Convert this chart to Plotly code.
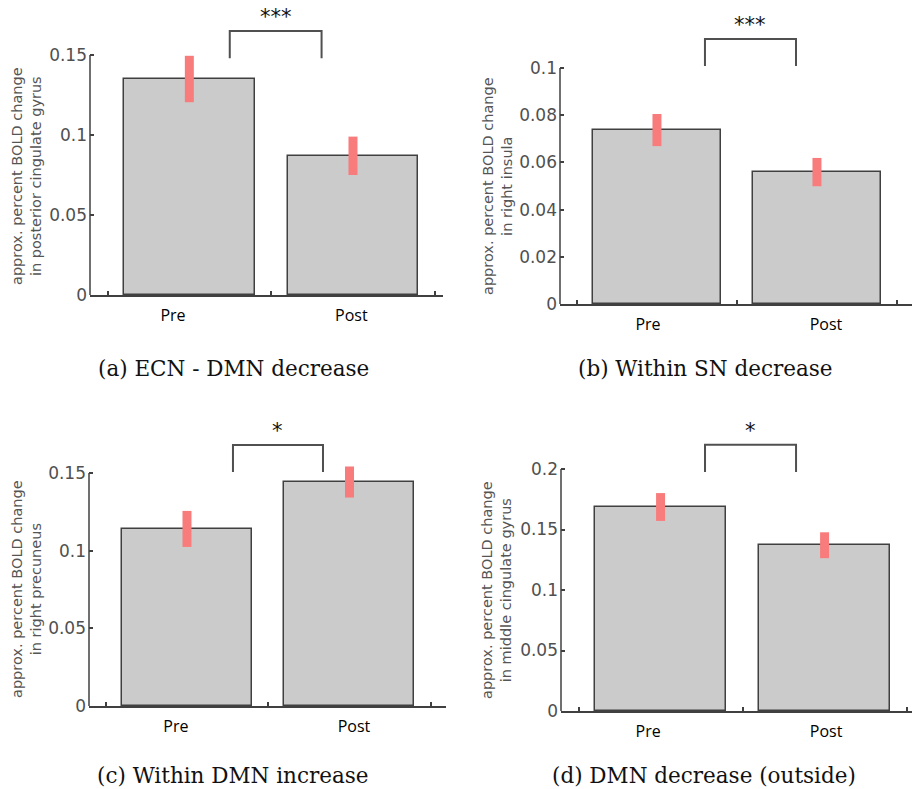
import plotly.graph_objects as go

# ---------------- data ----------------
categories = ["Pre", "Post"]

a_means = [0.135, 0.087]
a_errors = [0.0145, 0.012]
b_means = [0.0737, 0.0559]
b_errors = [0.0068, 0.006]
c_means = [0.114, 0.1442]
c_errors = [0.0116, 0.010]
d_means = [0.1686, 0.137]
d_errors = [0.0115, 0.0107]

a_yticks = [0, 0.05, 0.1, 0.15]
b_yticks = [0, 0.02, 0.04, 0.06, 0.08, 0.1]
c_yticks = [0, 0.05, 0.1, 0.15]
d_yticks = [0, 0.05, 0.1, 0.15, 0.2]

significance = ["***", "***", "*", "*"]
captions = ["(a) ECN - DMN decrease", "(b) Within SN decrease",
            "(c) Within DMN increase", "(d) DMN decrease (outside)"]
ytitles = ["approx. percent BOLD change<br>in posterior cingulate gyrus",
           "approx. percent BOLD change<br>in right insula",
           "approx. percent BOLD change<br>in right precuneus",
           "approx. percent BOLD change<br>in middle cingulate gyrus"]

# ---------------- layout geometry (pixels in a 912x789 canvas) ----------------
W, H = 912, 789
panels = [
    dict(means=a_means, err=a_errors, yticks=a_yticks, xl=90, xr=443, ybot=295, ytop=55, top=0,
         xrange=[0.393, 2.55], lab=[0.90, 1.99], br_x=[1.247, 1.808], br_y=[0.148, 0.165],
         cap=(233, 368), yt=(26, 176)),
    dict(means=b_means, err=b_errors, yticks=b_yticks, xl=560, xr=912, ybot=304, ytop=68, top=0,
         xrange=[0.394, 2.594], lab=[0.944, 2.056], br_x=[1.30, 1.869], br_y=[0.1008, 0.1123],
         cap=(705, 368), yt=(497, 186)),
    dict(means=c_means, err=c_errors, yticks=c_yticks, xl=89, xr=446, ybot=706, ytop=473, top=400,
         xrange=[0.397, 2.594], lab=[0.932, 2.028], br_x=[1.283, 1.837], br_y=[0.1507, 0.168],
         cap=(233, 775), yt=(26, 589)),
    dict(means=d_means, err=d_errors, yticks=d_yticks, xl=561, xr=912, ybot=711, ytop=469, top=400,
         xrange=[0.393, 2.533], lab=[0.924, 2.009], br_x=[1.271, 1.826], br_y=[0.1975, 0.22],
         cap=(704, 775), yt=(496, 590)),
]

AXIS_COLOR = "#404040"
BAR_FILL = "#CBCBCB"
ERR_COLOR = "#F97C7C"
SANS = "DejaVu Sans"

fig = go.Figure()
annotations = []
shapes = []

for i, p in enumerate(panels):
    n = "" if i == 0 else str(i + 1)
    xa, ya = "x" + n, "y" + n
    ymax_tick = p["yticks"][-1]
    ymax_range = ymax_tick * (p["ybot"] - p["top"]) / (p["ybot"] - p["ytop"])

    fig.add_trace(go.Bar(
        x=[1, 2], y=p["means"], width=0.8,
        marker=dict(color=BAR_FILL, line=dict(color=AXIS_COLOR, width=1.5)),
        error_y=dict(type="data", array=p["err"], visible=True, color=ERR_COLOR,
                     thickness=9, width=0),
        xaxis=xa, yaxis=ya, showlegend=False, hoverinfo="skip",
    ))

    fig.layout["xaxis" + n] = dict(
        domain=[p["xl"] / W, p["xr"] / W], anchor=ya, range=p["xrange"],
        automargin=False,
        showline=True, linecolor=AXIS_COLOR, linewidth=1.5,
        tickmode="array", tickvals=p["lab"], ticktext=categories, ticks="",
        tickfont=dict(family="Open Sans", size=16, color="#000"),
        ticklabelstandoff=5,
        minor=dict(tickmode="array", tickvals=[0.5, 1.5, 2.5], ticks="inside",
                   ticklen=4, tickcolor=AXIS_COLOR, tickwidth=1.5),
        showgrid=False, zeroline=False, fixedrange=True,
    )
    fig.layout["yaxis" + n] = dict(
        domain=[1 - p["ybot"] / H, 1 - p["top"] / H], anchor=xa,
        range=[0, ymax_range], automargin=False,
        showline=False, tickmode="array", tickvals=p["yticks"],
        ticktext=[f"{v:g}" for v in p["yticks"]],
        ticks="inside", ticklen=4, tickcolor=AXIS_COLOR, tickwidth=1.5,
        tickfont=dict(family=SANS, size=17, color="#505050"),
        ticklabelstandoff=2,
        showgrid=False, zeroline=False, fixedrange=True,
    )

    # y axis line up to the top tick
    shapes.append(dict(type="line", xref=xa + " domain", yref=ya,
                       x0=0, x1=0, y0=0, y1=ymax_tick,
                       line=dict(color=AXIS_COLOR, width=1.5)))
    # significance bracket
    bx, by = p["br_x"], p["br_y"]
    shapes.append(dict(type="path", xref=xa, yref=ya,
                       path=f"M {bx[0]} {by[0]} L {bx[0]} {by[1]} L {bx[1]} {by[1]} L {bx[1]} {by[0]}",
                       line=dict(color="#505050", width=2)))
    annotations.append(dict(xref=xa, yref=ya, x=(bx[0] + bx[1]) / 2, y=by[1],
                            yanchor="bottom", xanchor="center", yshift=0,
                            text=significance[i], showarrow=False,
                            font=dict(family=SANS, size=21, color="#111")))
    # y title
    annotations.append(dict(xref="paper", yref="paper",
                            x=p["yt"][0] / W, y=1 - p["yt"][1] / H,
                            xanchor="center", yanchor="middle", textangle=-90,
                            text=ytitles[i], showarrow=False,
                            font=dict(family=SANS, size=14.5, color="#555")))
    # caption
    annotations.append(dict(xref="paper", yref="paper",
                            x=p["cap"][0] / W, y=1 - p["cap"][1] / H,
                            xanchor="center", yanchor="middle",
                            text=captions[i], showarrow=False,
                            font=dict(family="DejaVu Serif", size=21.5, color="#111")))

fig.update_layout(
    width=W, height=H, margin=dict(l=0, r=0, t=0, b=0),
    paper_bgcolor="white", plot_bgcolor="white",
    annotations=annotations, shapes=shapes, bargap=0,
)

fig.write_html("out.html", config={"displayModeBar": False},
               post_script="document.body.style.margin='0';document.body.style.overflow='hidden';")
